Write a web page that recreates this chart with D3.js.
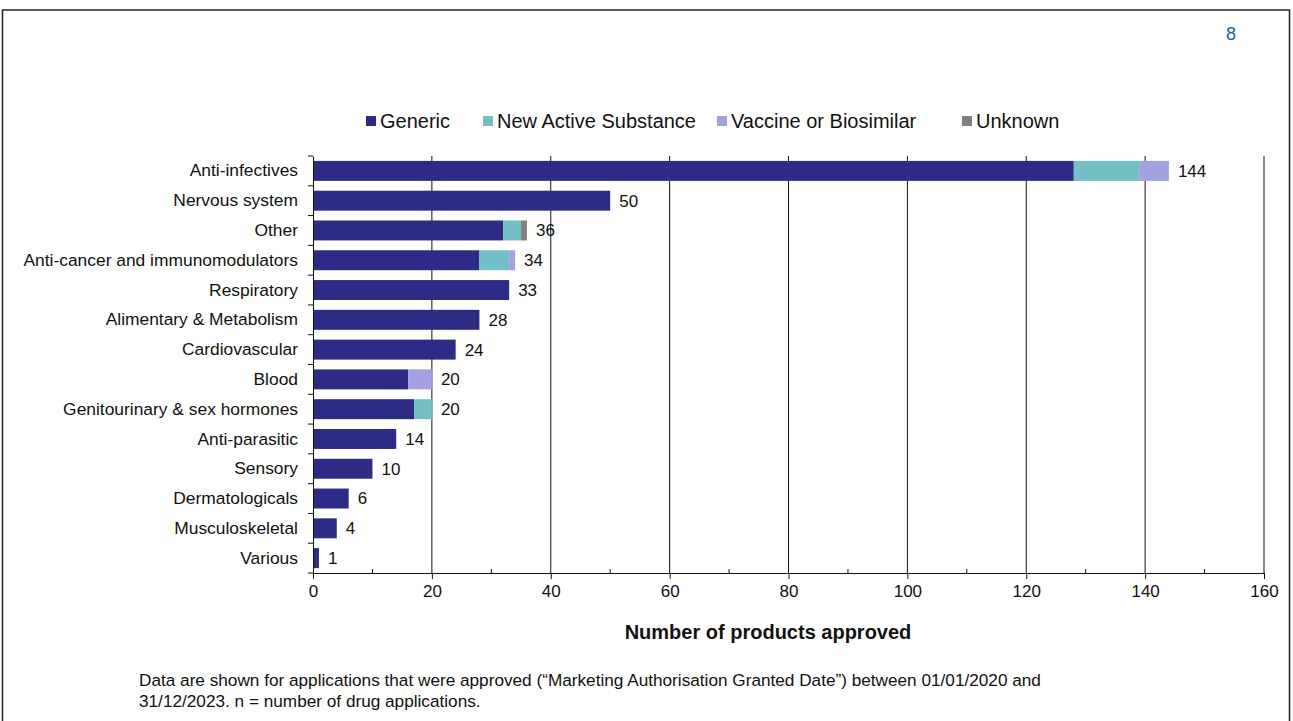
<!DOCTYPE html>
<html>
<head>
<meta charset="utf-8">
<script src="https://cdn.jsdelivr.net/npm/d3@7"></script>
<style>
  body { margin: 0; background: #fff; }
  svg { display: block; font-family: "Liberation Sans", Arial, sans-serif; }
</style>
</head>
<body>
<div id="chart"></div>
<script>
const categories = [
  "Anti-infectives", "Nervous system", "Other", "Anti-cancer and immunomodulators",
  "Respiratory", "Alimentary & Metabolism", "Cardiovascular", "Blood",
  "Genitourinary & sex hormones", "Anti-parasitic", "Sensory", "Dermatologicals",
  "Musculoskeletal", "Various"
];
const seriesNames = ["Generic", "New Active Substance", "Vaccine or Biosimilar", "Unknown"];
const generic = [128, 50, 32, 28, 33, 28, 24, 16, 17, 14, 10, 6, 4, 1];
const newActive = [11, 0, 3, 5, 0, 0, 0, 0, 3, 0, 0, 0, 0, 0];
const vaccineBio = [5, 0, 0, 1, 0, 0, 0, 4, 0, 0, 0, 0, 0, 0];
const unknown = [0, 0, 1, 0, 0, 0, 0, 0, 0, 0, 0, 0, 0, 0];
const xTicks = [0, 20, 40, 60, 80, 100, 120, 140, 160];
const xMinorTicks = [10, 30, 50, 70, 90, 110, 130, 150];

const colors = ["#2e2b87", "#72c0c4", "#a4a1e1", "#808080"];

const rows = categories.map((c, i) => ({
  category: c,
  Generic: generic[i],
  "New Active Substance": newActive[i],
  "Vaccine or Biosimilar": vaccineBio[i],
  Unknown: unknown[i],
  total: generic[i] + newActive[i] + vaccineBio[i] + unknown[i],
}));

const W = 1293, H = 721;
const plotLeft = 313, plotRight = 1264, plotTop = 156, plotBottom = 573;

const svg = d3.select("#chart").append("svg").attr("width", W).attr("height", H);

// frame
svg.append("rect")
  .attr("x", 2.5).attr("y", 10).attr("width", 1287).attr("height", 730)
  .attr("fill", "none").attr("stroke", "#222").attr("stroke-width", 1.5);

svg.append("text")
  .attr("x", 1231).attr("y", 40)
  .attr("text-anchor", "middle")
  .attr("font-size", 18).attr("fill", "#1f6490")
  .text("8");

const x = d3.scaleLinear().domain([0, 160]).range([plotLeft, plotRight]);
const y = d3.scaleBand().domain(categories).range([plotTop, plotBottom])
  .paddingInner(0.33).paddingOuter(0.165);

const stack = d3.stack().keys(seriesNames)(rows);

// gridlines
svg.append("g")
  .selectAll("line")
  .data(xTicks.slice(1))
  .join("line")
  .attr("x1", d => x(d)).attr("x2", d => x(d))
  .attr("y1", plotTop).attr("y2", plotBottom)
  .attr("stroke", "#111").attr("stroke-width", 1);

// bars
svg.append("g")
  .selectAll("g")
  .data(stack)
  .join("g")
  .attr("fill", (d, i) => colors[i])
  .selectAll("rect")
  .data(d => d.filter(s => s[1] > s[0]))
  .join("rect")
  .attr("x", d => x(d[0]))
  .attr("width", d => x(d[1]) - x(d[0]))
  .attr("y", d => y(d.data.category))
  .attr("height", y.bandwidth());

// value labels
svg.append("g")
  .selectAll("text")
  .data(rows)
  .join("text")
  .attr("x", d => x(d.total) + 9)
  .attr("y", d => y(d.category) + y.bandwidth() / 2)
  .attr("dy", "0.35em")
  .attr("font-size", 17).attr("fill", "#111")
  .text(d => d.total);

// x axis
const xAxis = svg.append("g")
  .attr("transform", `translate(0,${plotBottom})`)
  .call(d3.axisBottom(x).tickValues(xTicks).tickSize(6).tickPadding(6).tickFormat(d3.format("d")));
xAxis.select(".domain").attr("stroke", "#111");
xAxis.selectAll(".tick line").attr("stroke", "#111");
xAxis.selectAll("text").attr("font-size", 17).attr("fill", "#111").attr("font-family", "Liberation Sans, Arial, sans-serif");

svg.append("g")
  .selectAll("line")
  .data(xMinorTicks)
  .join("line")
  .attr("x1", d => x(d)).attr("x2", d => x(d))
  .attr("y1", plotBottom - 4).attr("y2", plotBottom)
  .attr("stroke", "#111");

// y axis
const yAxis = svg.append("g")
  .attr("transform", `translate(${plotLeft},0)`)
  .call(d3.axisLeft(y).tickSize(0).tickPadding(15));
yAxis.select(".domain").attr("stroke", "#111");
yAxis.selectAll("text").attr("font-size", 17.4).attr("fill", "#111").attr("font-family", "Liberation Sans, Arial, sans-serif");

const bounds = categories.map(c => y(c) - y.step() * y.paddingInner() / 2);
bounds.push(plotBottom);
svg.append("g")
  .selectAll("line")
  .data(bounds)
  .join("line")
  .attr("x1", plotLeft - 5).attr("x2", plotLeft)
  .attr("y1", d => d).attr("y2", d => d)
  .attr("stroke", "#111");

// axis title
svg.append("text")
  .attr("x", 768).attr("y", 639)
  .attr("text-anchor", "middle")
  .attr("font-size", 20).attr("font-weight", "bold").attr("fill", "#111")
  .text("Number of products approved");

// legend
const legendX = [366, 483, 717, 962];
const legend = svg.append("g")
  .selectAll("g")
  .data(seriesNames)
  .join("g")
  .attr("transform", (d, i) => `translate(${legendX[i]},121)`);
legend.append("rect")
  .attr("x", 0).attr("y", -5).attr("width", 10).attr("height", 10)
  .attr("fill", (d, i) => colors[i]);
legend.append("text")
  .attr("x", 14).attr("dy", "0.35em")
  .attr("font-size", 20).attr("fill", "#111")
  .text(d => d);

// footnote
const notes = [
  "Data are shown for applications that were approved (\u201cMarketing Authorisation Granted Date\u201d) between 01/01/2020 and",
  "31/12/2023. n = number of drug applications."
];
svg.append("g")
  .selectAll("text")
  .data(notes)
  .join("text")
  .attr("x", 139)
  .attr("y", (d, i) => 686 + i * 21)
  .attr("font-size", 17.2).attr("fill", "#111")
  .text(d => d);
</script>
</body>
</html>
